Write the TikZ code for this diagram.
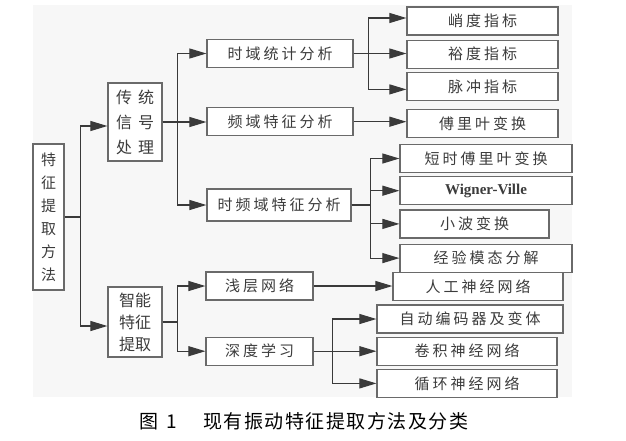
\documentclass[tikz,border=0pt]{standalone}
\usepackage{fontspec}
\usepackage{xcolor}
\usepackage{tikz}
\usetikzlibrary{arrows.meta,positioning}

\newfontfamily\cjk[LetterSpace=20]{Noto Sans CJK SC}
\newfontfamily\capfont{Noto Sans CJK SC}
\newfontfamily\titlefont[LetterSpace=8]{Noto Sans CJK SC}
\newfontfamily\latinfont{Liberation Serif}

\definecolor{linegray}{HTML}{3A3A3A}
\definecolor{boxgray}{HTML}{6A6A6A}
\definecolor{textgray}{HTML}{3C3C3C}
\definecolor{scanbg}{HTML}{F7F7F7}

\begin{document}
\begin{tikzpicture}[
    x=1pt, y=-1pt,
    box/.style={rectangle, draw=boxgray, line width=1.2pt, fill=white, text=textgray, minimum height=28pt, inner sep=0pt, font=\cjk\fontsize{15}{18}\selectfont},
    vbox/.style={box, align=center},
    arrow/.style={-{Triangle[length=17pt,width=10pt]}, draw=linegray, line width=1.1pt}
]
    \useasboundingbox (0,0) rectangle (626,440);
    \fill[scanbg] (33,5) rectangle (572,397);

    % Root
    \node[vbox, minimum width=31pt, minimum height=146pt, font=\capfont\fontsize{15}{23}\selectfont] (method) at (48.5,217) {特\\征\\提\\取\\方\\法};

    % Two families
    \node[vbox, minimum width=54pt, minimum height=78pt, font=\capfont\fontsize{16}{25}\selectfont] (trad) at (135,122) {传\hspace{6pt}统\\信\hspace{6pt}号\\处\hspace{6pt}理};
    \node[vbox, minimum width=54pt, minimum height=70pt, font=\capfont\fontsize{16}{22}\selectfont] (smart) at (135,322) {智能\\特征\\提取};

    % Signal processing
    \node[box, minimum width=146pt] (tdom) at (280,53.5) {时域统计分析};
    \node[box, minimum width=146pt, below=39pt of tdom] (fdom) {频域特征分析};
    \node[box, minimum width=144pt, minimum height=32pt] (tfdom) at (279,205) {时频域特征分析};

    % Indicators
    \node[box, minimum width=151pt] (kurt) at (482.5,21) {峭度指标};
    \node[box, minimum width=151pt, below=4pt of kurt] (margin) {裕度指标};
    \node[box, minimum width=151pt, below=3pt of margin] (impulse) {脉冲指标};
    \node[box, minimum width=151pt, below=8pt of impulse] (fourier) {傅里叶变换};

    % Time-frequency methods
    \node[box, minimum width=172pt] (stft) at (486,158.5) {短时傅里叶变换};
    \node[box, minimum width=172pt, below=3pt of stft] (wvd) {\latinfont\bfseries\fontsize{15}{18}\selectfont Wigner-Ville};
    \node[box, minimum width=149pt, below=4pt of wvd.south west, anchor=north west] (wavelet) {小波变换};
    \node[box, minimum width=172pt, below=5pt of wavelet.south west, anchor=north west] (emd) {经验模态分解};

    % Intelligent extraction
    \node[box, minimum width=107pt] (shallow) at (259.5,286) {浅层网络};
    \node[box, minimum width=107pt, below=36pt of shallow] (deep) {深度学习};
    \node[box, minimum width=170pt] (ann) at (478,286.5) {人工神经网络};
    \node[box, minimum width=186pt] (ae) at (470,319) {自动编码器及变体};
    \node[box, minimum width=180pt, below=3pt of ae.south west, anchor=north west] (cnn) {卷积神经网络};
    \node[box, minimum width=180pt, below=3pt of cnn] (rnn) {循环神经网络};

    % Arrows
    \draw[arrow] (method.east) -- ++(16,0) |- ([yshift=-4pt]trad.west);
    \draw[arrow] (method.east) -- ++(16,0) |- ([yshift=-4pt]smart.west);

    \draw[arrow] (trad.east) -- ++(15,0) |- (tdom.west);
    \draw[arrow] (trad.east) -- (trad.east -| fdom.west);
    \draw[arrow] (trad.east) -- ++(15,0) |- (tfdom.west);

    \draw[arrow] (tdom.east) -- ++(15,0) |- ([yshift=3pt]kurt.west);
    \draw[arrow] (tdom.east) -- (tdom.east -| margin.west);
    \draw[arrow] (tdom.east) -- ++(15,0) |- ([yshift=-3pt]impulse.west);
    \draw[arrow] (fdom.east) -- (fdom.east -| fourier.west);

    \foreach \leaf in {stft,wvd,wavelet,emd}
        \draw[arrow] (tfdom.east) -- ++(19,0) |- (\leaf.west);

    \draw[arrow] (smart.east) -- ++(15,0) |- (shallow.west);
    \draw[arrow] (smart.east) -- ++(15,0) |- (deep.west);
    \draw[arrow] (shallow.east) -- (shallow.east -| ann.west);
    \foreach \leaf in {ae,cnn,rnn}
        \draw[arrow] (deep.east) -- ++(19,0) |- (\leaf.west);

    % Caption
    \node[font=\titlefont\fontsize{19}{21}\selectfont] (caption) at (304,421) {图\hspace{0.4em}1\hspace{1.4em}现有振动特征提取方法及分类};

\end{tikzpicture}
\end{document}
